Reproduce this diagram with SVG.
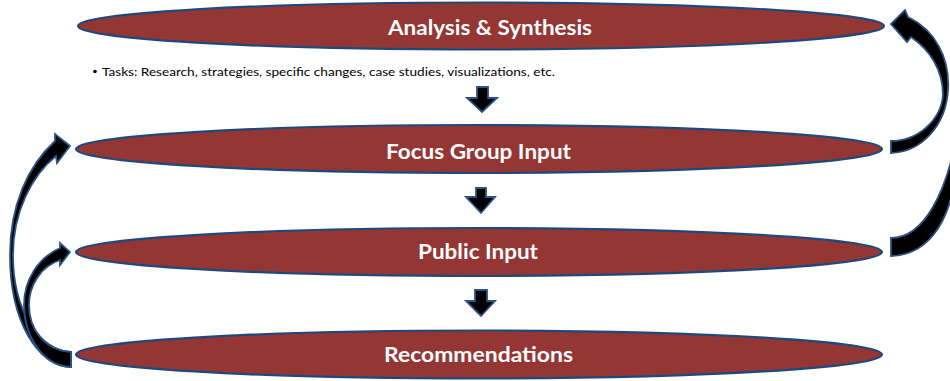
<svg xmlns="http://www.w3.org/2000/svg" width="950" height="381" viewBox="0 0 950 381">
<style>
.node ellipse{fill:#943634;stroke:#1f497d;stroke-width:2.2}
.lbl{font-family:Lato,"Liberation Sans",Arial,sans-serif;font-weight:bold;font-size:21px;fill:#ffffff;text-anchor:middle}
.arr{fill:#000000;stroke:#2a5385;stroke-width:1.8;stroke-linejoin:miter}
.task{font-family:Lato,"Liberation Sans",Arial,sans-serif;font-size:12px;fill:#000000}
</style>
<rect width="950" height="381" fill="#ffffff"/>
<g id="node-analysis" class="node">
<ellipse cx="481" cy="26" rx="403" ry="23.5"/>
<text class="lbl" x="490" y="35" textLength="204" lengthAdjust="spacingAndGlyphs">Analysis &amp; Synthesis</text>
</g>
<g id="node-tasks">
<circle cx="95" cy="71.5" r="1.8" fill="#000"/>
<text class="task" x="102" y="75.5" textLength="453" lengthAdjust="spacingAndGlyphs">Tasks: Research, strategies, specific changes, case studies, visualizations, etc.</text>
</g>
<g id="node-focus" class="node">
<ellipse cx="479" cy="149" rx="403" ry="24"/>
<text class="lbl" x="478.5" y="159" textLength="185" lengthAdjust="spacingAndGlyphs">Focus Group Input</text>
</g>
<g id="node-public" class="node">
<ellipse cx="479" cy="252" rx="403" ry="24"/>
<text class="lbl" x="478" y="259" textLength="120" lengthAdjust="spacingAndGlyphs">Public Input</text>
</g>
<g id="node-recommendations" class="node">
<ellipse cx="479" cy="354.5" rx="403" ry="24"/>
<text class="lbl" x="478.5" y="362" textLength="189" lengthAdjust="spacingAndGlyphs">Recommendations</text>
</g>
<g id="connectors">
<path class="arr" d="M477,87 L488,87 L488,98 L497,98 L482,112 L467,98 L477,98 Z"/>
<path class="arr" d="M476,188 L486,188 L486,197 L495,197 L481,213 L466,197 L476,197 Z"/>
<path class="arr" d="M475,290 L487,290 L487,301 L495,301 L481,316 L466,301 L475,301 Z"/>
<path class="arr" d="M891,256 C 925,255 948,228 956,175 L 956,140 C 946,190 925,238 891,238 Z"/>
<path class="arr" d="M891,153 C 922,152 946,125 948,90 C 950,58 935,30 908,17 L905,10 L891,24 L907,42 L911,37 C 930,50 943,70 943,95 C 941,120 918,141 891,141 Z"/>
<path class="arr" d="M71,367 C 38,366 10,322 10,255 C 10,205 28,166 55,141 L55,134 L70,146 L57,163 L56,156 C 32,175 13,212 13,255 C 13,312 40,350 71,352 Z"/>
<path class="arr" d="M71,367 C 42,366 24,335 24,305 C 24,280 38,258 60,248 L60,243 L70,252 L60,265 L60,260 C 42,266 29,284 29,305 C 29,330 45,350 71,352 Z"/>
</g>
</svg>
